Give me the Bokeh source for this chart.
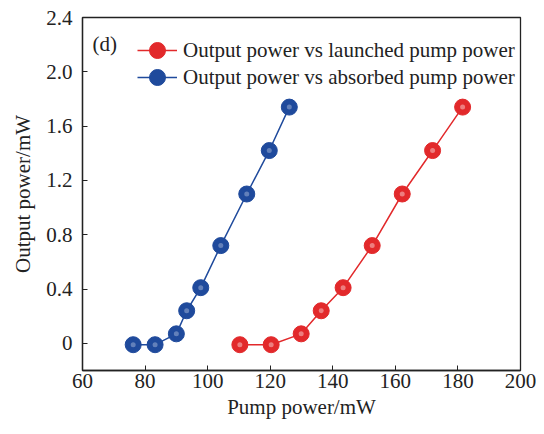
from bokeh.plotting import figure
from bokeh.models import FixedTicker, Legend, LegendItem, Label, Range1d
from bokeh.embed import file_html
from bokeh.resources import INLINE

# Data
launched_pump = [110.3, 120.3, 129.9, 136.3, 143.3, 152.6, 162.2, 171.9, 181.5]
absorbed_pump = [76.2, 83.2, 90.0, 93.3, 97.8, 104.2, 112.5, 119.7, 126.1]
output_power = [-0.01, -0.01, 0.07, 0.24, 0.41, 0.72, 1.10, 1.42, 1.74]
x_ticks = [60, 80, 100, 120, 140, 160, 180, 200]
y_ticks = [0, 0.4, 0.8, 1.2, 1.6, 2.0, 2.4]
y_tick_labels = ["0", "0.4", "0.8", "1.2", "1.6", "2.0", "2.4"]

FONT = "Liberation Serif"
FS = "21px"
RED = "#e2292b"
BLUE = "#1f4a9c"

p = figure(width=536, height=426, output_backend="svg", toolbar_location=None,
           x_range=Range1d(60, 200), y_range=Range1d(-0.2, 2.4),
           min_border_left=82, min_border_right=16, min_border_top=17, min_border_bottom=56)
p.grid.visible = False
p.outline_line_color = "#222222"
p.outline_line_width = 1.3
p.background_fill_color = "white"
p.border_fill_color = "white"

for ax in (p.xaxis[0], p.yaxis[0]):
    ax.major_tick_in = 5
    ax.major_tick_out = 0
    ax.minor_tick_line_color = None
    ax.axis_line_color = "#222222"
    ax.axis_line_width = 1.3
    ax.major_tick_line_color = "#222222"
    ax.major_label_text_font = FONT
    ax.major_label_text_font_size = FS
    ax.major_label_text_color = "#222222"
    ax.axis_label_text_font = FONT
    ax.axis_label_text_font_size = FS
    ax.axis_label_text_font_style = "normal"
    ax.axis_label_text_color = "#222222"

p.xaxis.ticker = FixedTicker(ticks=x_ticks)
p.yaxis.ticker = FixedTicker(ticks=y_ticks)
p.yaxis.major_label_overrides = {t: l for t, l in zip(y_ticks, y_tick_labels)}
p.xaxis.axis_label = "Pump power/mW"
p.yaxis.axis_label = "Output power/mW"
p.xaxis.major_label_standoff = 3
p.xaxis.axis_label_standoff = 4
p.yaxis.major_label_standoff = 10
p.yaxis.axis_label_standoff = 8

r_line = p.line(launched_pump, output_power, line_color=RED, line_width=1.5)
r_pts = p.scatter(launched_pump, output_power, size=16, fill_color=RED, line_color=RED)
b_line = p.line(absorbed_pump, output_power, line_color=BLUE, line_width=1.5)
b_pts = p.scatter(absorbed_pump, output_power, size=16, fill_color=BLUE, line_color=BLUE)
# small specular highlights for a sphere-like look
p.scatter(launched_pump, output_power, size=5, fill_color="white", fill_alpha=0.4, line_color=None)
p.scatter(absorbed_pump, output_power, size=5, fill_color="white", fill_alpha=0.3, line_color=None)


def make_legend(label, renderers, loc):
    lg = Legend(items=[LegendItem(label=label, renderers=renderers)], location=loc)
    lg.label_text_font = FONT
    lg.label_text_font_size = FS
    lg.label_text_color = "#222222"
    lg.border_line_color = None
    lg.background_fill_alpha = 0
    lg.padding = 0
    lg.margin = 0
    lg.spacing = 0
    lg.glyph_width = 40
    lg.glyph_height = 40
    lg.label_height = 27
    lg.label_standoff = 6
    return lg


p.add_layout(make_legend("Output power vs launched pump power", [r_line, r_pts], (55, 300)))
p.add_layout(make_legend("Output power vs absorbed pump power", [b_line, b_pts], (55, 273)))

p.add_layout(Label(x=10, y=327, x_units="screen", y_units="screen", text="(d)",
                   text_font=FONT, text_font_size=FS, text_color="#222222",
                   text_baseline="middle"))

open("out.html", "w").write(file_html(p, INLINE))
